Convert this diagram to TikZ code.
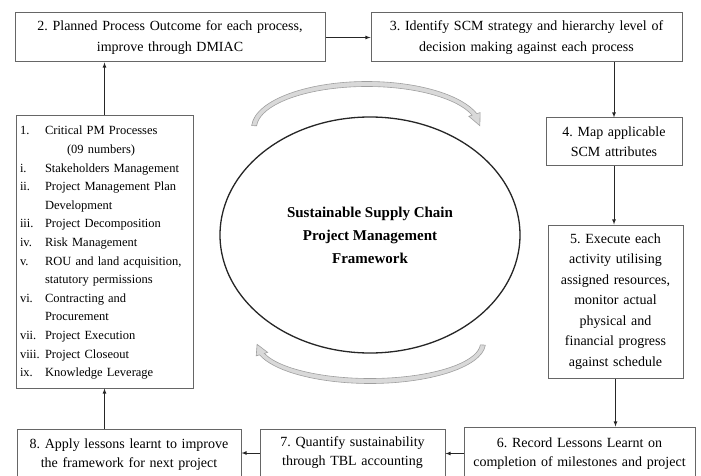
\documentclass[tikz,border=0pt]{standalone}
\usepackage{fontspec}
\setmainfont{Liberation Serif}
\usetikzlibrary{shapes.geometric}
\frenchspacing

\begin{document}
\begin{tikzpicture}[x=1pt,y=-1pt]
% Styles
\tikzstyle{fleche}=[->,>=latex,line width=0.8pt,black!85]
\tikzstyle{boite}=[draw=black!60,line width=1pt,fill=white,inner sep=4pt,align=center,font=\fontsize{14}{20.5}\selectfont]
\tikzstyle{boitebas}=[boite,font=\fontsize{14}{19}\selectfont]
\tikzstyle{cadre}=[ellipse,draw=black!85,line width=1.3pt,inner sep=0pt,minimum width=300pt,minimum height=236pt,align=center,font=\bfseries\fontsize{15}{23}\selectfont]
\tikzstyle{rotation}=[fill=gray!30,draw=gray!75,line width=0.6pt]
% Canvas
\clip (0,0) rectangle (701,476);
% Boxes
\node[boite,align=left,text width=169pt,minimum height=272pt,font=\fontsize{12.5}{18.6}\selectfont] (E1) at (104.5,252) {%
\begin{tabular}{@{}p{25pt}@{}l@{}}
1. & Critical PM Processes\\
   & \hspace{22pt}(09 numbers)\\
i. & Stakeholders Management\\
ii. & Project Management Plan\\
   & Development\\
iii. & Project Decomposition\\
iv. & Risk Management\\
v. & ROU and land acquisition,\\
   & statutory permissions\\
vi. & Contracting and\\
   & Procurement\\
vii. & Project Execution\\
viii. & Project Closeout\\
ix. & Knowledge Leverage
\end{tabular}};
\node[boite,text width=302pt,minimum height=49pt] (E2) at (170,37.5) {2. Planned Process Outcome for each process,\\improve through DMIAC};
\node[boite,text width=303pt,minimum height=49pt] (E3) at (526.5,37.5) {3. Identify SCM strategy and hierarchy level of\\decision making against each process};
\node[boite,text width=128pt,minimum height=47pt] (E4) at (614,141.5) {4. Map applicable\\SCM attributes};
\node[boite,text width=127pt,minimum height=153pt] (E5) at (615.5,301.5) {5. Execute each\\activity utilising\\assigned resources,\\monitor actual\\physical and\\financial progress\\against schedule};
\node[boitebas,text width=223pt,minimum height=53pt] (E6) at (579.5,453.5) {6. Record Lessons Learnt on\\completion of milestones and project};
\node[boitebas,text width=177pt,minimum height=48pt] (E7) at (352.5,453) {7. Quantify sustainability\\through TBL accounting};
\node[boitebas,text width=216pt,minimum height=51pt] (E8) at (129,454.5) {8. Apply lessons learnt to improve\\the framework for next project};
% Centre
\node[cadre] (Cadre) at (370,235) {Sustainable Supply Chain\\Project Management\\Framework};
% Rotation arrows
\begin{scope}[shift={(367,128)}]
\filldraw[rotation] (-177:115.5 and 46.5) arc[start angle=-177,end angle=-18,x radius=115.5,y radius=46.5] -- (-18:119 and 50) -- (-3:113 and 44) -- (-18:107 and 38) -- (-18:110.5 and 41.5) arc[start angle=-18,end angle=-177,x radius=110.5,y radius=41.5] -- cycle;
\end{scope}
\begin{scope}[shift={(370,343)}]
\filldraw[rotation] (3:115.5 and 40.5) arc[start angle=3,end angle=163,x radius=115.5,y radius=40.5] -- (163:119 and 44) -- (178:113 and 38) -- (163:107 and 32) -- (163:110.5 and 35.5) arc[start angle=163,end angle=3,x radius=110.5,y radius=35.5] -- cycle;
\end{scope}
% Arrows
\draw[fleche] (E1.north) -- (E1.north |- E2.south);
\draw[fleche] (E2.east) -- (E3.west);
\draw[fleche] (E3.south -| E4.north) -- (E4.north);
\draw[fleche] (E4.south) -- (E4.south |- E5.north);
\draw[fleche] (E5.south) -- (E5.south |- E6.north);
\draw[fleche] (E6.west) -- (E6.west -| E7.east);
\draw[fleche] (E7.west) -- (E7.west -| E8.east);
\draw[fleche] (E1.south |- E8.north) -- (E1.south);
\end{tikzpicture}
\end{document}
